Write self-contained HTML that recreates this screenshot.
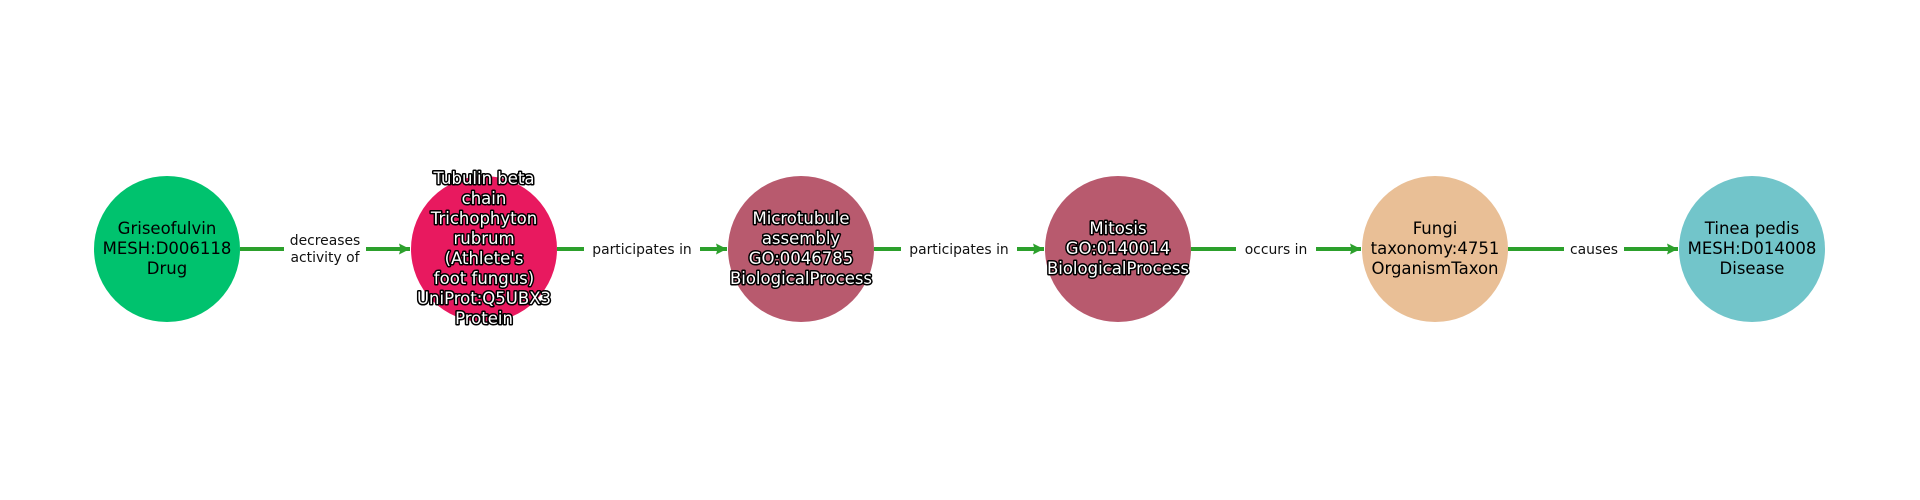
<!DOCTYPE html>
<html><head><meta charset="utf-8"><style>html,body{margin:0;padding:0;background:#fff}svg{display:block}</style></head>
<body>
<svg width="1920" height="500" viewBox="0 0 1920 500" xmlns="http://www.w3.org/2000/svg" font-family="DejaVu Sans, Liberation Sans, sans-serif">
<rect width="1920" height="500" fill="#fff"/>
<defs>
<marker id="ah" markerWidth="12" markerHeight="12" refX="11" refY="6" orient="auto" markerUnits="userSpaceOnUse">
<path d="M0,0.5 L11,6 L0,11.5 L1.5,6 Z" fill="#2ca02c"/>
</marker>
</defs>
<g stroke="#2ca02c" stroke-width="4" fill="none">
<line x1="240" y1="249" x2="410" y2="249" marker-end="url(#ah)"/>
<line x1="557" y1="249" x2="727" y2="249" marker-end="url(#ah)"/>
<line x1="874" y1="249" x2="1044" y2="249" marker-end="url(#ah)"/>
<line x1="1191" y1="249" x2="1361" y2="249" marker-end="url(#ah)"/>
<line x1="1508" y1="249" x2="1678" y2="249" marker-end="url(#ah)"/>
</g>
<g fill="#fff">
<rect x="284" y="230" width="82" height="38"/>
<rect x="584" y="239" width="116" height="20"/>
<rect x="901" y="239" width="116" height="20"/>
<rect x="1236" y="239" width="80" height="20"/>
<rect x="1564" y="239" width="60" height="20"/>
</g>
<g font-size="13.9" fill="#111" text-anchor="middle">
<text x="325" y="245">decreases</text>
<text x="325" y="262">activity of</text>
<text x="642" y="254">participates in</text>
<text x="959" y="254">participates in</text>
<text x="1276" y="254">occurs in</text>
<text x="1594" y="254">causes</text>
</g>
<circle cx="167" cy="249" r="73" fill="#00c26e"/>
<circle cx="484" cy="249" r="73" fill="#e8195f"/>
<circle cx="801" cy="249" r="73" fill="#b85a6e"/>
<circle cx="1118" cy="249" r="73" fill="#b85a6e"/>
<circle cx="1435" cy="249" r="73" fill="#e9bf96"/>
<circle cx="1752" cy="249" r="73" fill="#72c5ca"/>
<g font-size="16.5" fill="#000" text-anchor="middle">
<text x="167" y="234">Griseofulvin</text>
<text x="167" y="254">MESH:D006118</text>
<text x="167" y="274">Drug</text>
<text x="1435" y="234">Fungi</text>
<text x="1435" y="254">taxonomy:4751</text>
<text x="1435" y="274">OrganismTaxon</text>
<text x="1752" y="234">Tinea pedis</text>
<text x="1752" y="254">MESH:D014008</text>
<text x="1752" y="274">Disease</text>
</g>
<g font-size="16.5" fill="#fff" stroke="#000" stroke-width="3" paint-order="stroke" stroke-linejoin="round" text-anchor="middle">
<text x="484" y="184">Tubulin beta</text>
<text x="484" y="204">chain</text>
<text x="484" y="224">Trichophyton</text>
<text x="484" y="244">rubrum</text>
<text x="484" y="264">(Athlete's</text>
<text x="484" y="284">foot fungus)</text>
<text x="484" y="304">UniProt:Q5UBX3</text>
<text x="484" y="324">Protein</text>
<text x="801" y="224">Microtubule</text>
<text x="801" y="244">assembly</text>
<text x="801" y="264">GO:0046785</text>
<text x="801" y="284">BiologicalProcess</text>
<text x="1118" y="234">Mitosis</text>
<text x="1118" y="254">GO:0140014</text>
<text x="1118" y="274">BiologicalProcess</text>
</g>
</svg>
</body></html>
